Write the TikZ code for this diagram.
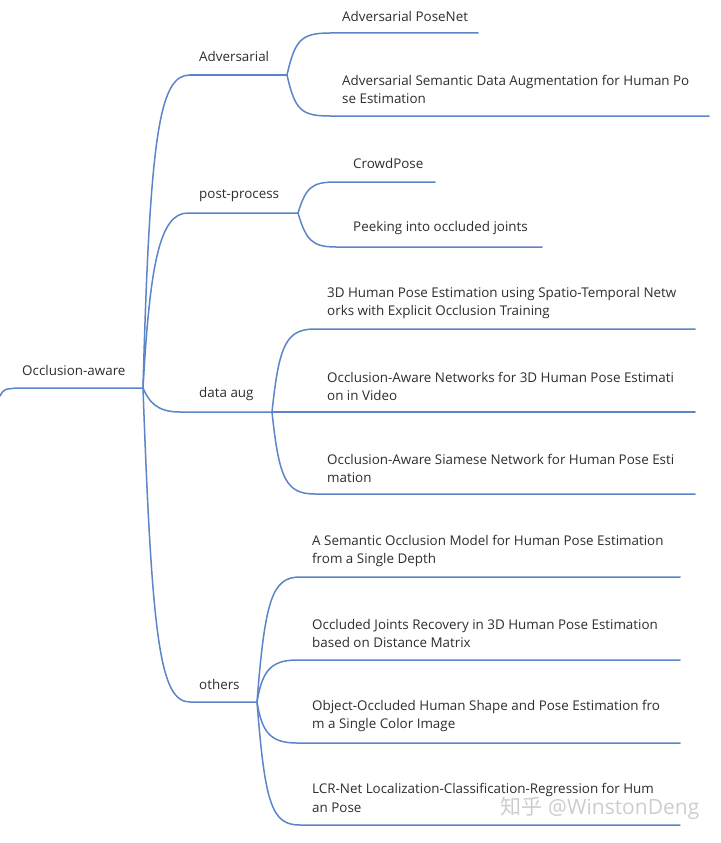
\documentclass[tikz,border=0pt]{standalone}
\usepackage{fontspec}
\setmainfont{Open Sans}
\newfontfamily\cjkwm{Noto Sans CJK SC}
\definecolor{branch}{RGB}{92,132,200}
\definecolor{txt}{RGB}{45,45,45}
\definecolor{wm}{RGB}{205,205,205}
\begin{document}
\begin{tikzpicture}[x=1pt,y=-1pt,
  lbl/.style={anchor=west,inner sep=0pt,text=txt,font=\fontsize{13.4}{18}\selectfont,align=left},
  conn/.style={draw=branch,line width=1.5pt,line cap=round}]
\useasboundingbox (0,0) rectangle (720,843);
% coordinates
\coordinate (tail) at (0,396);
\coordinate (hub) at (143,388);
\coordinate (adv) at (287,75);
\coordinate (post) at (298,213);
\coordinate (aug) at (272,412);
\coordinate (oth) at (257,702);
% line ends
\coordinate (e1) at (478,33);
\coordinate (e2) at (709,116);
\coordinate (e3) at (435,182);
\coordinate (e4) at (542,247);
\coordinate (e5) at (695,329);
\coordinate (e6) at (695,412);
\coordinate (e7) at (695,494);
\coordinate (e8) at (680,577);
\coordinate (e9) at (680,660);
\coordinate (e10) at (680,743);
\coordinate (e11) at (680,825);
% labels
\node[lbl] (root) at (22,370) {Occlusion-aware};
\node[lbl] (l1) at (199,56) {Adversarial};
\node[lbl] (l2) at (199,196) {post-process};
\node[lbl] (l3) at (199,394) {data aug};
\node[lbl] (l4) at (199,684) {others};
\node[lbl] (t1) at (342,16) {Adversarial PoseNet};
\node[lbl] (t2) at (342,89) {Adversarial Semantic Data Augmentation for Human Po\\se Estimation};
\node[lbl] (t3) at (353,163) {CrowdPose};
\node[lbl] (t4) at (353,228) {Peeking into occluded joints};
\node[lbl] (t5) at (327,303) {3D Human Pose Estimation using Spatio-Temporal Netw\\orks with Explicit Occlusion Training};
\node[lbl] (t6) at (327,386) {Occlusion-Aware Networks for 3D Human Pose Estimati\\on in Video};
\node[lbl] (t7) at (327,468) {Occlusion-Aware Siamese Network for Human Pose Esti\\mation};
\node[lbl] (t8) at (312,551) {A Semantic Occlusion Model for Human Pose Estimation\\from a Single Depth};
\node[lbl] (t9) at (312,633) {Occluded Joints Recovery in 3D Human Pose Estimation\\based on Distance Matrix};
\node[lbl] (t10) at (312,716) {Object-Occluded Human Shape and Pose Estimation fro\\m a Single Color Image};
\node[lbl] (t11) at (312,790) {LCR-Net Localization-Classification-Regression for Hum};
\node[lbl] (t11b) at (312,808) {an Pose};
\node[anchor=center,inner sep=0pt,text=wm,font=\fontsize{21}{21}\selectfont] (wmk) at (600,808) {{\cjkwm 知乎} @WinstonDeng};
% root
\draw[conn] (tail) .. controls (4,389) .. (18,388) -- (hub);
% level 1
\draw[conn] (hub) .. controls (150,130) and (160,75) .. (190,75) -- (adv);
\draw[conn] (hub) .. controls (150,262) and (160,213) .. (188,213) -- (post);
\draw[conn] (hub) .. controls (149,402) and (157,412) .. (180,412) -- (aug);
\draw[conn] (hub) .. controls (152,640) and (160,702) .. (190,702) -- (oth);
% adversarial
\draw[conn] (adv) .. controls (295,40) and (301,33) .. (330,33) -- (e1);
\draw[conn] (adv) .. controls (295,110) and (301,116) .. (330,116) -- (e2);
% post
\draw[conn] (post) .. controls (306,187) and (312,182) .. (336,182) -- (e3);
\draw[conn] (post) .. controls (306,240) and (312,247) .. (336,247) -- (e4);
% aug
\draw[conn] (aug) .. controls (279,345) and (286,329) .. (315,329) -- (e5);
\draw[conn] (aug) -- (e6);
\draw[conn] (aug) .. controls (279,479) and (286,494) .. (315,494) -- (e7);
% others
\draw[conn] (oth) .. controls (265,600) and (272,577) .. (300,577) -- (e8);
\draw[conn] (oth) .. controls (262,672) and (270,660) .. (297,660) -- (e9);
\draw[conn] (oth) .. controls (262,732) and (270,743) .. (297,743) -- (e10);
\draw[conn] (oth) .. controls (265,805) and (272,825) .. (300,825) -- (e11);
\end{tikzpicture}
\end{document}
